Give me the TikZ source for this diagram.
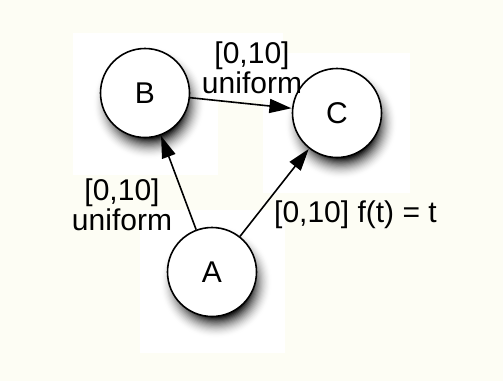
\documentclass[tikz,border=0pt]{standalone}
\usepackage{fontspec}
\setmainfont{Liberation Sans}
\usetikzlibrary{arrows.meta}
\definecolor{cream}{RGB}{253,253,244}
\tikzset{
  statenode/.style={circle, draw=black, line width=1.6pt, fill=white, minimum size=89pt, inner sep=0pt, font=\fontsize{30}{30}\selectfont},
  edgelabel/.style={inner sep=0pt, align=center, font=\fontsize{30}{30}\selectfont},
  link/.style={line width=1.6pt, -{Triangle[length=22pt,width=14pt]}, shorten >=0.5pt},
  blank/.style={fill=white, draw=none}
}
\begin{document}
\begin{tikzpicture}[x=1pt,y=-1pt]
  \useasboundingbox (0,0) rectangle (503,381);
  \fill[cream] (0,0) rectangle (503,381);
  % white panels behind the shapes
  \fill[blank] (73,33) rectangle (218,175);
  \fill[blank] (205,33) rectangle (283,100);
  \fill[blank] (263,53) rectangle (410,193);
  \fill[blank] (140,210) rectangle (285,353);
  % soft shadows (graded rings, fading to white)
  \foreach \cx/\cy in {145/93, 337/113, 212/272} {
    \foreach \k in {18,17,...,0} {
      \pgfmathsetmacro\shd{88*(1-\k/18)^1.8}
      \pgfmathsetmacro\rad{36+\k*1.15}
      \fill[black!\shd] ({\cx+4},{\cy+10}) circle[radius=\rad pt];
    }
  }
  % nodes
  \node[statenode] (B) at (145,93) {B};
  \node[statenode] (C) at (337,113) {C};
  \node[statenode] (A) at (212,272) {A};
  % edges
  \draw[link] (B) -- (C);
  \draw[link] (A) -- (B);
  \draw[link] (A) -- (C);
  % labels
  \node[edgelabel] (lbc) at (252,68) {[0,10]\\uniform};
  \node[edgelabel] (lab) at (122,205) {[0,10]\\uniform};
  \node[edgelabel, anchor=west] (lac) at (274,215) {[0,10] f(t) = t};
\end{tikzpicture}
\end{document}
